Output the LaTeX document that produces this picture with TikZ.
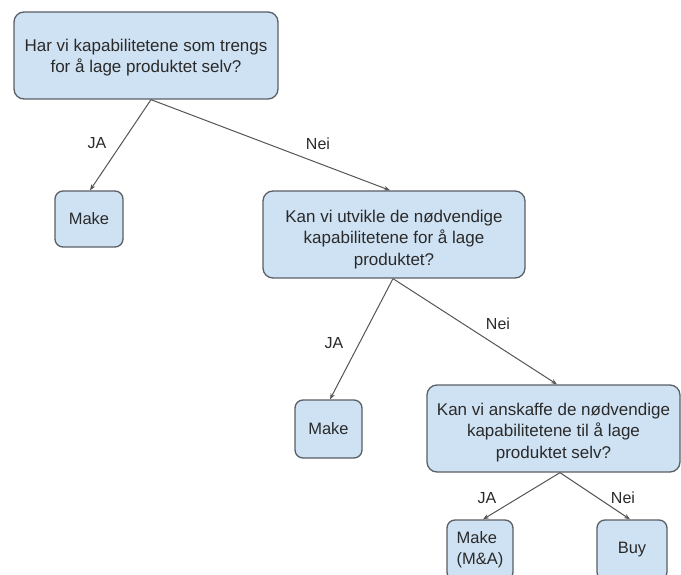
\documentclass[tikz,border=0pt]{standalone}
\usepackage{fontspec}
\setmainfont{Liberation Sans}
\usetikzlibrary{arrows.meta}
\definecolor{boxfill}{HTML}{CFE2F3}
\definecolor{boxline}{HTML}{5A5F66}
\definecolor{inkgray}{HTML}{2A2A2A}
\definecolor{linkgray}{HTML}{555555}
\begin{document}
\begin{tikzpicture}[x=1pt,y=-1pt,
  qbox/.style={draw=boxline, fill=boxfill, line width=1.3pt, rounded corners=10pt,
    inner sep=0pt, minimum height=87pt},
  qtext/.style={align=center, inner sep=0pt, text=inkgray,
    font=\fontsize{17}{21.5}\selectfont},
  abox/.style={draw=boxline, fill=boxfill, line width=1.3pt, rounded corners=8pt,
    inner sep=0pt, text=inkgray, font=\fontsize{16.5}{21}\selectfont},
  link/.style={draw=linkgray, line width=1pt, -{Stealth[length=6pt,width=4.5pt]}},
  lbl/.style={text=inkgray, font=\fontsize{16}{19}\selectfont, inner sep=0pt}]
\useasboundingbox (0,0) rectangle (681,575);
\fill[white] (0,0) rectangle (681,575);

% question boxes and their texts
\node[qbox, minimum width=264pt] (q1) at (146,55.5) {};
\node[qtext] (q1t) at ([yshift=-2pt]q1.center)
  {Har vi kapabilitetene som trengs\\for å lage produktet selv?};
\node[qbox, minimum width=262pt] (q2) at (394,234.5) {};
\node[qtext] (q2t) at ([yshift=-5pt]q2.center)
  {Kan vi utvikle de nødvendige\\kapabilitetene for å lage\\produktet?};
\node[qbox, minimum width=253pt] (q3) at (553.5,428.5) {};
\node[qtext] (q3t) at ([yshift=-4pt]q3.center)
  {Kan vi anskaffe de nødvendige\\kapabilitetene til å lage\\produktet selv?};

% answer boxes
\node[abox, minimum width=68pt, minimum height=56pt] (m1) at (89,219) {Make};
\node[abox, minimum width=67pt, minimum height=58pt] (m2) at (328.5,429) {Make};
\node[abox, minimum width=66pt, minimum height=60pt, align=left] (m3) at (480,550)
  {Make\\(M\&A)};
\node[abox, minimum width=70pt, minimum height=60pt] (buy) at (632,550) {Buy};

% connectors
\draw[link] ([xshift=5pt]q1.south) -- ([xshift=1pt]m1.north);
\draw[link] ([xshift=5pt]q1.south) -- ([xshift=-4pt]q2.north);
\draw[link] ([xshift=-1pt]q2.south) -- ([xshift=1.5pt]m2.north);
\draw[link] ([xshift=-1pt]q2.south) -- ([xshift=3.5pt]q3.north);
\draw[link] ([xshift=6.5pt]q3.south) -- ([xshift=3pt]m3.north);
\draw[link] ([xshift=6.5pt]q3.south) -- ([xshift=-2pt]buy.north);

% answer labels
\node[lbl] (l1) at (97,143) {JA};
\node[lbl] (l2) at (318,144) {Nei};
\node[lbl] (l3) at (334,343) {JA};
\node[lbl] (l4) at (498,324) {Nei};
\node[lbl] (l5) at (487,498) {JA};
\node[lbl] (l6) at (623,498) {Nei};
\end{tikzpicture}
\end{document}
